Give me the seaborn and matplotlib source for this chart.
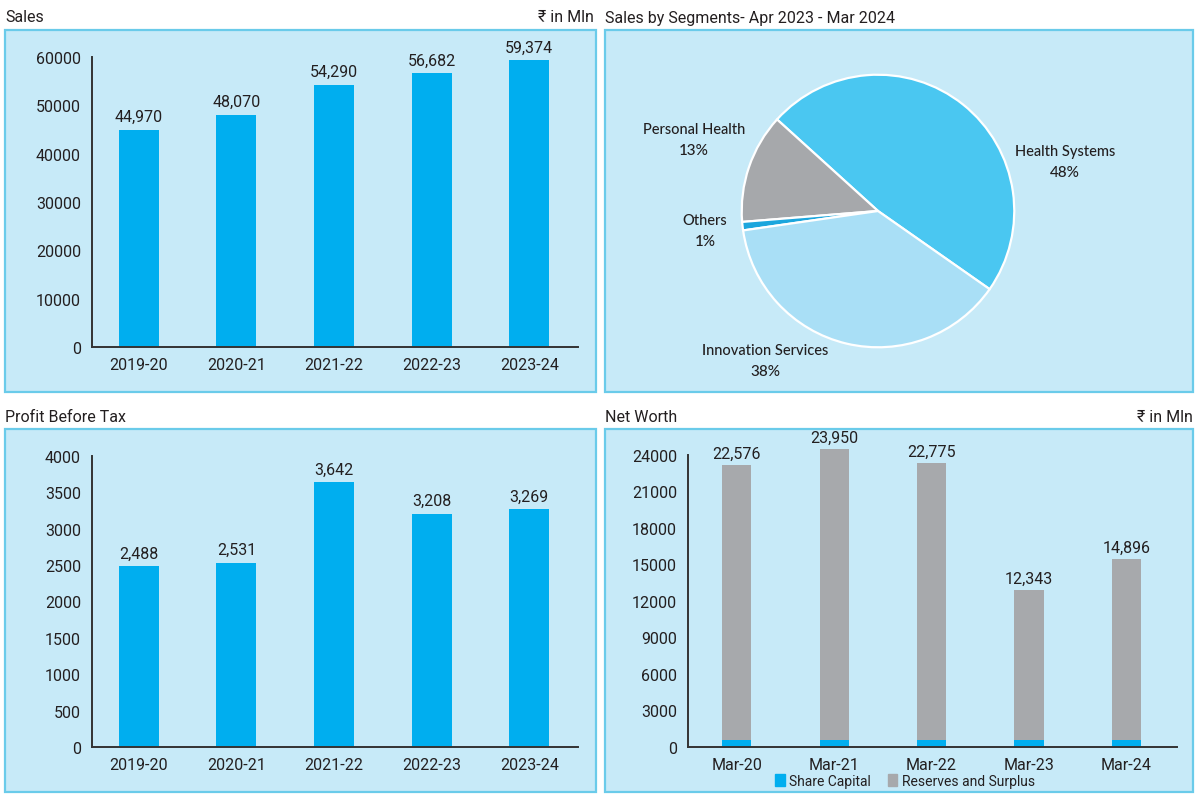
import matplotlib
matplotlib.use("Agg")
import matplotlib.pyplot as plt
from matplotlib.patches import Rectangle, Patch
import seaborn as sns
import pandas as pd

# ---------------- data ----------------
years = ["2019-20", "2020-21", "2021-22", "2022-23", "2023-24"]
sales = [44970, 48070, 54290, 56682, 59374]
pbt = [2488, 2531, 3642, 3208, 3269]

nw_years = ["Mar-20", "Mar-21", "Mar-22", "Mar-23", "Mar-24"]
reserves = [22576, 23950, 22775, 12343, 14896]
share_capital = [575, 575, 575, 575, 575]

seg_names = ["Health Systems", "Personal Health", "Others", "Innovation Services"]
seg_share = [48, 13, 1, 38]

sales_ticks = [0, 10000, 20000, 30000, 40000, 50000, 60000]
pbt_ticks = [0, 500, 1000, 1500, 2000, 2500, 3000, 3500, 4000]
nw_ticks = [0, 3000, 6000, 9000, 12000, 15000, 18000, 21000, 24000]

# ---------------- style ----------------
sns.set_theme(style="white")
FONT = ["Roboto", "Noto Sans", "DejaVu Sans"]
PIEFONT = ["Lato", "Noto Sans", "DejaVu Sans"]
plt.rcParams["font.family"] = FONT

TXT = "#231F20"
BLUE = "#00AEEF"
GREY = "#A7A9AC"
BG = "#C7EAF8"
EDGE = "#6ACBEA"

W, H = 1200, 803
fig = plt.figure(figsize=(12, 8.03), dpi=100, facecolor="white")


def px(x, y):
    return x / W, 1 - y / H


# panel boxes
for (x0, y0, x1, y1) in [(5, 31, 596, 393), (605, 31, 1193, 393),
                         (5, 430, 596, 793), (605, 430, 1193, 793)]:
    fig.patches.append(Rectangle((x0 / W, 1 - y1 / H), (x1 - x0) / W, (y1 - y0) / H,
                                 transform=fig.transFigure, facecolor=BG,
                                 edgecolor=EDGE, linewidth=1.6, zorder=-10))

# panel titles
def title(x, y, s, ha="left"):
    fig.text(*px(x, y), s, ha=ha, va="center", fontsize=11.5, color=TXT, family=FONT)

title(5, 18, "Sales")
title(594, 18, "₹ in Mln", ha="right")
title(605, 18, "Sales by Segments- Apr 2023 - Mar 2024")
title(5, 418, "Profit Before Tax")
title(605, 418, "Net Worth")
title(1193, 418, "₹ in Mln", ha="right")


def style_axes(ax, ticks):
    ax.set_facecolor("none")
    for s in ["top", "right"]:
        ax.spines[s].set_visible(False)
    for s in ["left", "bottom"]:
        ax.spines[s].set_color("#333333")
        ax.spines[s].set_linewidth(1.4)
    ax.set_yticks(ticks)
    ax.set_yticklabels([str(t) for t in ticks])
    ax.set_ylim(0, ticks[-1])
    ax.tick_params(axis="y", direction="in", length=7, width=1.4, color="#333333",
                   pad=8, labelsize=11.5, labelcolor=TXT)
    ax.tick_params(axis="x", length=0, pad=7, labelsize=11.5, labelcolor=TXT)
    ax.set_xlabel("")
    ax.set_ylabel("")


def bar_panel(rect, cats, vals, ticks):
    ax = fig.add_axes(rect)
    df = pd.DataFrame({"cat": cats, "val": vals})
    sns.barplot(data=df, x="cat", y="val", color=BLUE, saturation=1, width=0.41,
                linewidth=0, ax=ax)
    style_axes(ax, ticks)
    ax.set_xlim(-0.48, 4.5)
    for i, v in enumerate(vals):
        ax.annotate(f"{v:,}", (i, v), xytext=(0, 4), textcoords="offset points",
                    ha="center", va="bottom", fontsize=11.5, color=TXT,
                    annotation_clip=False)
    return ax


# Sales
bar_panel([92 / W, 1 - 348 / H, 486 / W, 290 / H], years, sales, sales_ticks)
# Profit Before Tax
bar_panel([92 / W, 1 - 748 / H, 486 / W, 291 / H], years, pbt, pbt_ticks)

# Net Worth (stacked)
ax = fig.add_axes([688 / W, 1 - 748 / H, 489 / W, 292 / H])
totals = [r + s for r, s in zip(reserves, share_capital)]
dfn = pd.DataFrame({"cat": nw_years, "total": totals, "share": share_capital})
sns.barplot(data=dfn, x="cat", y="total", color=GREY, saturation=1, width=0.3,
            linewidth=0, ax=ax)
sns.barplot(data=dfn, x="cat", y="share", color=BLUE, saturation=1, width=0.3,
            linewidth=0, ax=ax)
for p in ax.patches:
    p.set_clip_on(False)
style_axes(ax, nw_ticks)
ax.set_xlim(-0.5, 4.52)
for i, (r, t) in enumerate(zip(reserves, totals)):
    ax.annotate(f"{r:,}", (i, t), xytext=(0, 3), textcoords="offset points",
                ha="center", va="bottom", fontsize=11.5, color=TXT,
                annotation_clip=False)
ax.set_ylim(0, 24000)
fig.legend(handles=[Patch(color=BLUE, label="Share Capital"),
                    Patch(color=GREY, label="Reserves and Surplus")],
           loc="center", bbox_to_anchor=px(905, 782), ncol=2, frameon=False,
           fontsize=10, handlelength=0.7, handleheight=0.9, handletextpad=0.3,
           columnspacing=1.2, labelcolor=TXT)

# Pie
r_px = 139
cx, cy = 878, 212
pax = fig.add_axes([(cx - r_px) / W, 1 - (cy + r_px) / H, 2 * r_px / W, 2 * r_px / H])
pie_colors = ["#4AC7F1", "#A6A8AB", "#1BA6DD", "#A9DFF6"]
pax.pie(seg_share, colors=pie_colors, startangle=-35, counterclock=True,
        wedgeprops=dict(edgecolor="white", linewidth=1.6))
pax.set_xlim(-1.02, 1.02)
pax.set_ylim(-1.02, 1.02)
pax.set_aspect("equal")
pax.set_facecolor("none")
pax.axis("off")

label_pos = {"Health Systems": (1065, 152), "Personal Health": (694, 130),
             "Others": (705, 221), "Innovation Services": (765, 351)}
for name, pct in zip(seg_names, seg_share):
    x, y = label_pos[name]
    fig.text(*px(x, y), name, ha="center", va="center", fontsize=10.5, color=TXT,
             family=PIEFONT, weight="medium")
    fig.text(*px(x, y + 21), f"{pct}%", ha="center", va="center", fontsize=11,
             color=TXT, family=PIEFONT, weight="medium")

fig.savefig("out.png", dpi=100, facecolor="white")
